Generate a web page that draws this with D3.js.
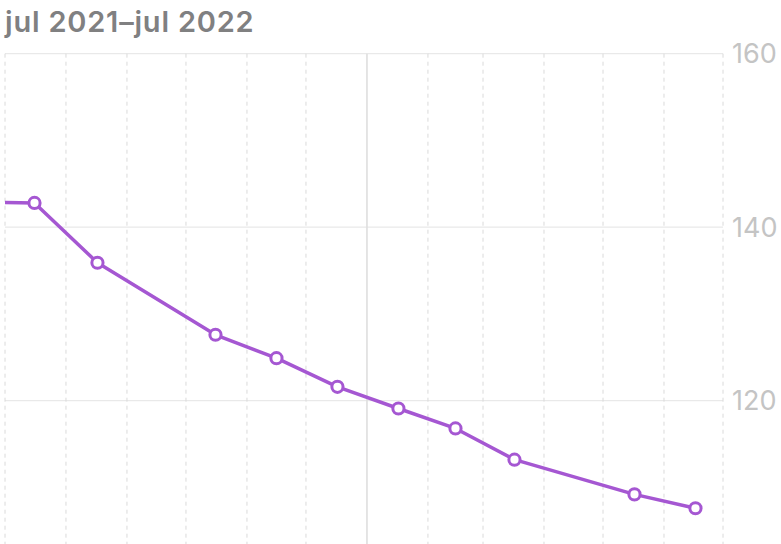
<!DOCTYPE html>
<html>
<head>
<meta charset="utf-8">
<script src="https://cdn.jsdelivr.net/npm/d3@7"></script>
<style>
  html, body { margin: 0; padding: 0; background: #ffffff; }
  svg { display: block; }
</style>
</head>
<body>
<svg id="chart" width="781" height="544"></svg>
<script>
const title = "jul 2021–jul 2022";
const dates = ["2021-06-16","2021-07-16","2021-08-17","2021-10-16","2021-11-16","2021-12-17","2022-01-17","2022-02-15","2022-03-17","2022-05-17","2022-06-17"];
const values = [142.9, 142.8, 135.9, 127.6, 124.9, 121.6, 119.1, 116.8, 113.2, 109.2, 107.6];
const yTicks = [120, 140, 160];
const domainStart = "2021-07-01";
const domainEnd = "2022-07-01";
const yDomain = [103.48, 160];

(function () {
const W = 781, H = 544;
const mLeft = 5, mRight = 723, mTop = 53.7, mBottom = 544;
const parse = d3.utcParse("%Y-%m-%d");
const data = dates.map((d, i) => ({ date: parse(d), value: values[i] }));

const svg = d3.select("#chart");
const x = d3.scaleUtc().domain([parse(domainStart), parse(domainEnd)]).range([mLeft, mRight]);
const y = d3.scaleLinear().domain(yDomain).range([mBottom, mTop]);

// Title
svg.append("text")
  .attr("x", 5).attr("y", 32)
  .attr("font-family", "Inter, 'Open Sans', sans-serif")
  .attr("font-size", 29)
  .attr("font-weight", 600)
  .attr("letter-spacing", 0.8)
  .attr("fill", "#808081")
  .text(title);

// Horizontal gridlines
svg.append("g").selectAll("line").data(yTicks).join("line")
  .attr("x1", mLeft).attr("x2", mRight)
  .attr("y1", d => y(d)).attr("y2", d => y(d))
  .attr("stroke", "#e9e9e9").attr("stroke-width", 1.2);

// Vertical month lines
const months = d3.utcMonth.range(parse(domainStart), d3.utcDay.offset(parse(domainEnd), 1));
svg.append("g").selectAll("line").data(months).join("line")
  .attr("x1", d => x(d)).attr("x2", d => x(d))
  .attr("y1", mTop).attr("y2", mBottom)
  .attr("stroke", d => d.getUTCMonth() === 0 ? "#dedede" : "#dadada")
  .attr("stroke-width", d => d.getUTCMonth() === 0 ? 1.6 : 1)
  .attr("stroke-dasharray", d => d.getUTCMonth() === 0 ? null : "4,4");

// Y labels on the right
svg.append("g").selectAll("text").data(yTicks).join("text")
  .attr("x", 732).attr("y", d => y(d))
  .attr("dy", "0.36em")
  .attr("font-family", "Inter, 'Open Sans', sans-serif")
  .attr("font-size", 27)
  .attr("fill", "#c4c4c4")
  .text(d => d);

// Clip
svg.append("clipPath").attr("id", "clip")
  .append("rect").attr("x", mLeft).attr("y", 0).attr("width", W - mLeft).attr("height", H);

const purple = "#a557d2";
const line = d3.line().x(d => x(d.date)).y(d => y(d.value));
const g = svg.append("g").attr("clip-path", "url(#clip)");
g.append("path").datum(data)
  .attr("d", line)
  .attr("fill", "none")
  .attr("stroke", purple)
  .attr("stroke-width", 3.5)
  .attr("stroke-linejoin", "round");
g.selectAll("circle").data(data).join("circle")
  .attr("cx", d => x(d.date)).attr("cy", d => y(d.value))
  .attr("r", 5.6)
  .attr("fill", "#ffffff")
  .attr("stroke", purple)
  .attr("stroke-width", 3);
})();
</script>
</body>
</html>
